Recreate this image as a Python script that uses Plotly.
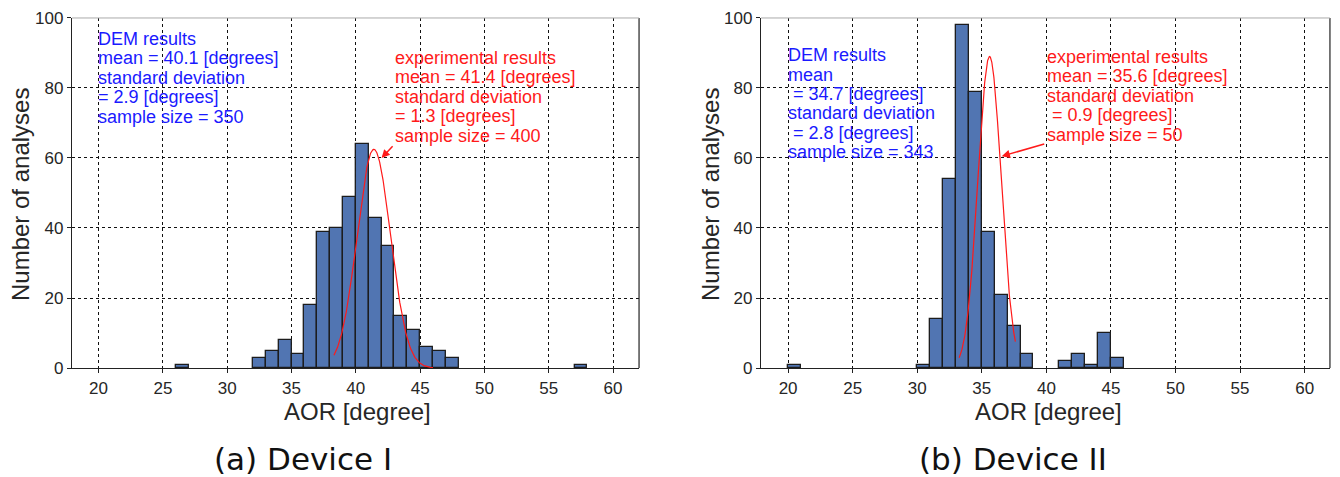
import numpy as np
import plotly.graph_objects as go

# ---------------- data ----------------
# Device I : DEM histogram (bin lower edges, bin width 1 degree) and counts
bins_a = [26, 32, 33, 34, 35, 36, 37, 38, 39, 40, 41, 42, 43, 44, 45, 46, 47, 57]
counts_a = [1, 3, 5, 8, 4, 18, 39, 40, 49, 64, 43, 35, 15, 11, 6, 5, 3, 1]
# Device II : DEM histogram
bins_b = [20, 30, 31, 32, 33, 34, 35, 36, 37, 38, 41, 42, 43, 44, 45]
counts_b = [1, 1, 14, 54, 98, 79, 39, 21, 12, 4, 2, 4, 1, 10, 3]

# experimental normal-distribution curves (mean, sd, drawn peak, x span)
exp_a = dict(mean=41.4, sd=1.3, peak=62.5, x0=38.3, x1=46.0)
exp_b = dict(mean=35.6, sd=0.9, peak=89.0, x0=33.25, x1=37.6)

text_dem_a = ["DEM results", "mean = 40.1 [degrees]", "standard deviation",
              "= 2.9 [degrees]", "sample size = 350"]
text_exp_a = ["experimental results", "mean = 41.4 [degrees]", "standard deviation",
              "= 1.3 [degrees]", "sample size = 400"]
text_dem_b = ["DEM results", "mean", " = 34.7 [degrees]", "standard deviation",
              " = 2.8 [degrees]", "sample size = 343"]
text_exp_b = ["experimental results", "mean = 35.6 [degrees]", "standard deviation",
              " = 0.9 [degrees]", "sample size = 50"]

x_ticks = [20, 25, 30, 35, 40, 45, 50, 55, 60]
y_ticks = [0, 20, 40, 60, 80, 100]

x_title = "AOR [degree]"
y_title = "Number of analyses"
captions = ["(a) Device I", "(b) Device II"]

# ---------------- figure ----------------
BAR_COLOR = "#5175b2"
EDGE = "#1c1c1c"
W, H = 1340, 477

fig = go.Figure()


def gauss_curve(p):
    xs = np.linspace(p["x0"], p["x1"], 300)
    ys = p["peak"] * np.exp(-((xs - p["mean"]) ** 2) / (2 * p["sd"] ** 2))
    return xs, ys


for bins, counts, expd, xa, ya in [(bins_a, counts_a, exp_a, "x", "y"),
                                   (bins_b, counts_b, exp_b, "x2", "y2")]:
    fig.add_trace(go.Bar(x=bins, y=counts, width=1, offset=0,
                         marker=dict(color=BAR_COLOR, line=dict(color=EDGE, width=1.3)),
                         xaxis=xa, yaxis=ya, showlegend=False, hoverinfo="x+y"))
    gx, gy = gauss_curve(expd)
    fig.add_trace(go.Scatter(x=gx, y=gy, mode="lines", line=dict(color="#ff1a1a", width=1.2),
                             xaxis=xa, yaxis=ya, showlegend=False, hoverinfo="skip"))

tick_font = dict(family="Liberation Sans, Arial, sans-serif", size=17, color="#262626")
axis_common = dict(showline=True, linecolor="#222", linewidth=1.2, mirror=False,
                   showgrid=True, gridcolor="#111", griddash="dot", gridwidth=1,
                   zeroline=False, ticks="outside", ticklen=4, tickcolor="#222",
                   tickfont=tick_font, automargin=False)

fig.update_layout(
    width=W, height=H, autosize=False,
    margin=dict(l=0, r=0, t=0, b=0, pad=0, autoexpand=False),
    paper_bgcolor="white", plot_bgcolor="white", bargap=0,
    xaxis=dict(domain=[0.0537, 0.4769], range=[17.93, 62.02], tickvals=x_ticks, anchor="y", **axis_common),
    yaxis=dict(domain=[0.2285, 0.9623], range=[0, 100], tickvals=y_ticks, anchor="x", **axis_common),
    xaxis2=dict(domain=[0.5679, 0.9925], range=[17.9, 61.96], tickvals=x_ticks, anchor="y2", **axis_common),
    yaxis2=dict(domain=[0.2285, 0.9623], range=[0, 100], tickvals=y_ticks, anchor="x2", **axis_common),
)

# frame: right side solid, top light
for xd, yd in [("x domain", "y domain"), ("x2 domain", "y2 domain")]:
    fig.add_shape(type="line", xref=xd, yref=yd, x0=1, x1=1, y0=0, y1=1,
                  line=dict(color="#222", width=1.2))
    fig.add_shape(type="line", xref=xd, yref=yd, x0=0, x1=1, y0=1, y1=1,
                  line=dict(color="#aaaaaa", width=1))

ann_font = "Liberation Sans, Arial, sans-serif"
PX_PER_UNIT_Y = 3.5
STEP = 19.45 / PX_PER_UNIT_Y


def add_lines(lines, x, y_first, color, xref, yref):
    for i, t in enumerate(lines):
        fig.add_annotation(x=x, y=y_first - i * STEP, xref=xref, yref=yref, text=t,
                           showarrow=False, xanchor="left", yanchor="middle",
                           font=dict(family=ann_font, size=18, color=color), borderpad=0)


add_lines(text_dem_a, 19.9, 94.0, "#1a1aff", "x", "y")
add_lines(text_exp_a, 42.95, 88.6, "#ff1a1a", "x", "y")
add_lines(text_dem_b, 19.9, 89.4, "#1a1aff", "x2", "y2")
add_lines(text_exp_b, 39.95, 88.9, "#ff1a1a", "x2", "y2")

# arrows pointing at the experimental curves
for (hx, hy, tx, ty, xr, yr) in [(42.0, 60.0, 42.97, 63.8, "x", "y"),
                                 (36.54, 60.5, 39.95, 64.1, "x2", "y2")]:
    fig.add_annotation(x=hx, y=hy, ax=tx, ay=ty, xref=xr, yref=yr, axref=xr, ayref=yr,
                       text="", showarrow=True, arrowhead=2, arrowsize=1.1,
                       arrowwidth=1.5, arrowcolor="#ff1a1a")

title_font = dict(family="Liberation Sans, Arial, sans-serif", size=24, color="#262626")
for cx in [357 / W, 1048 / W]:
    fig.add_annotation(x=cx, y=1 - 411 / H, xref="paper", yref="paper", text=x_title,
                       showarrow=False, xanchor="center", yanchor="middle", font=title_font)
for cx in [20 / W, 710 / W]:
    fig.add_annotation(x=cx, y=1 - 195 / H, xref="paper", yref="paper", text=y_title,
                       textangle=-90, showarrow=False, xanchor="center", yanchor="middle",
                       font=title_font)

cap_font = dict(family="DejaVu Sans, sans-serif", size=31, color="#111")
for cx, t in zip([303 / W, 1013 / W], captions):
    fig.add_annotation(x=cx, y=1 - 458.5 / H, xref="paper", yref="paper", text=t,
                       showarrow=False, xanchor="center", yanchor="middle", font=cap_font,
                       borderpad=0)

fig.write_html("out.html")
